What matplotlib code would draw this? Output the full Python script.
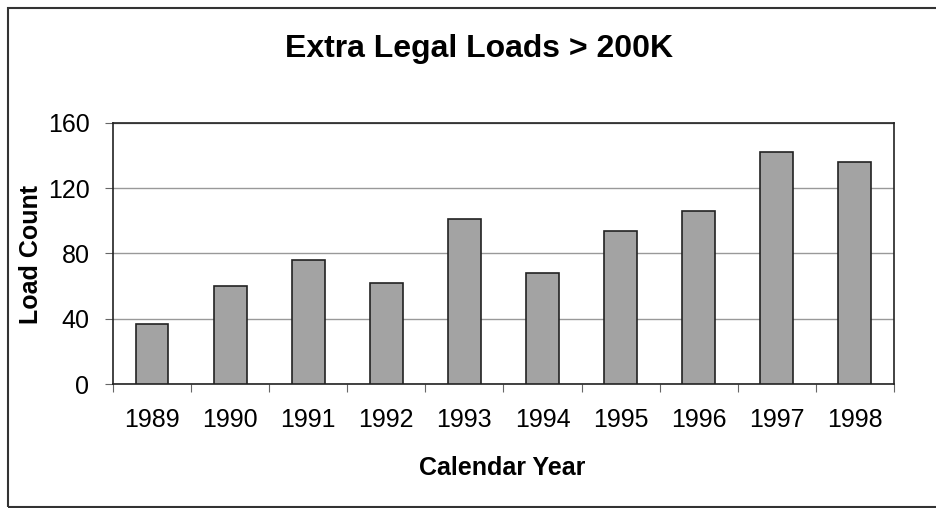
import matplotlib.pyplot as plt
from matplotlib.patches import Rectangle

# values
years = ["1989", "1990", "1991", "1992", "1993", "1994", "1995", "1996", "1997", "1998"]
loads = [37, 60, 76, 62, 101, 68, 94, 106, 142, 136]

plt.rcParams['font.family'] = ['Liberation Sans', 'DejaVu Sans']

fig = plt.figure(figsize=(9.37, 5.08), dpi=100)
ax = fig.add_axes([0.1206, 0.244, 0.8334, 0.514])

x = list(range(len(years)))
ax.bar(x, loads, width=0.42, color="#a3a3a3", edgecolor="#222222", linewidth=1.2, zorder=3)

ax.set_xlim(-0.5, len(years) - 0.5)
ax.set_ylim(0, 160)
ax.set_yticks([0, 40, 80, 120, 160])
ax.yaxis.grid(True, color="#999999", linewidth=1)
ax.set_axisbelow(True)

# ticks between categories like the spreadsheet chart
ax.set_xticks([i - 0.5 for i in range(len(years) + 1)], minor=False)
ax.set_xticklabels([])
ax.set_xticks(x, minor=True)
ax.set_xticklabels(years, minor=True)
ax.tick_params(axis='x', which='major', length=6, width=0.8, direction='out', color="#666666")
ax.tick_params(axis='x', which='minor', length=0, pad=17, labelsize=18)
ax.tick_params(axis='y', length=6, width=0.8, labelsize=18, pad=11, color="#666666")

for s in ax.spines.values():
    s.set_linewidth(1.2)
    s.set_color("#222222")

fig.text(0.033, 0.5, "Load Count", rotation=90, ha='center', va='center',
         fontsize=18, fontweight='bold')
fig.text(0.536, 0.065, "Calendar Year", ha='center', va='baseline',
         fontsize=18, fontweight='bold')
fig.text(0.511, 0.888, "Extra Legal Loads > 200K", ha='center', va='baseline',
         fontsize=23, fontweight='bold')

# outer frame (right edge runs off the scan)
fig.patches.append(Rectangle((8 / 937, 1.5 / 508), 940 / 937, 499 / 508,
                             transform=fig.transFigure, fill=False,
                             edgecolor="#333333", linewidth=1.5))

fig.savefig("out.png", dpi=100)
